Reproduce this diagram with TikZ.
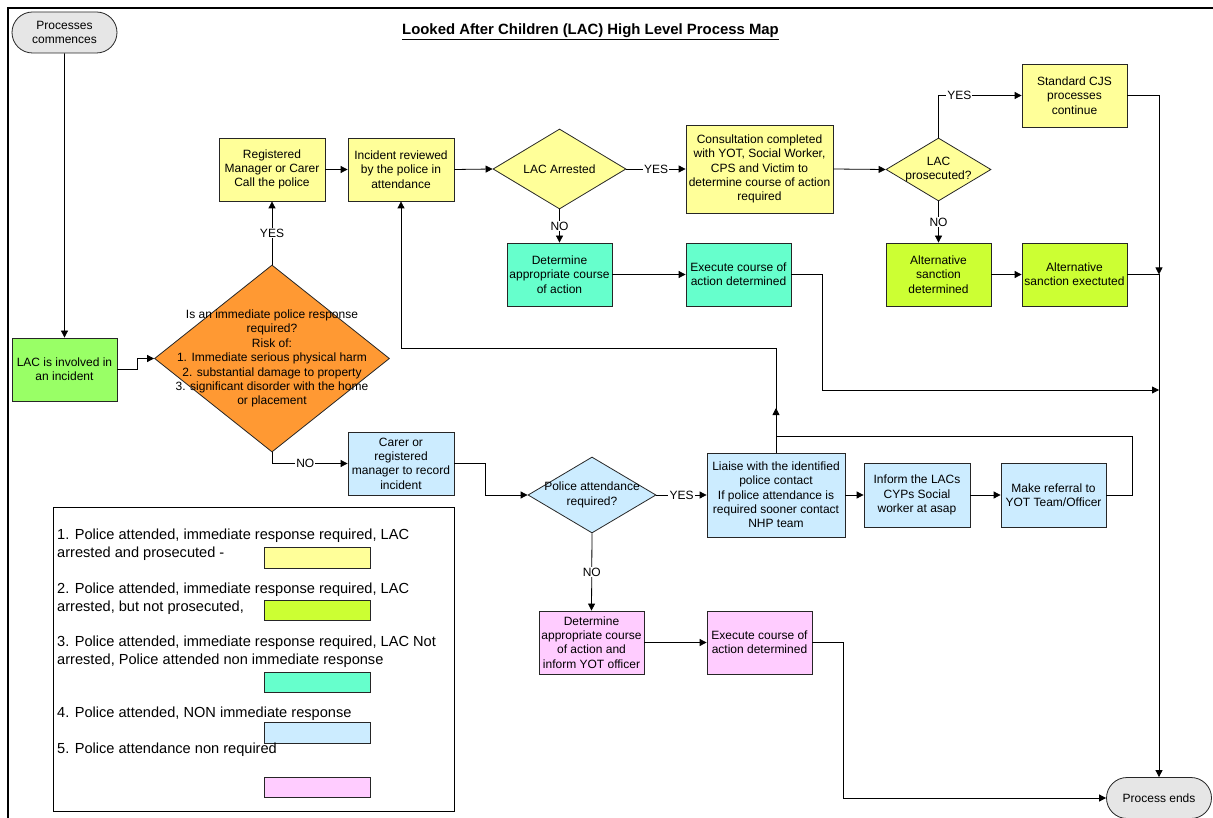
\documentclass[tikz,border=0pt]{standalone}
\usepackage{fontspec}
\setmainfont{Liberation Sans}
\usetikzlibrary{arrows.meta,shapes.geometric,shapes.misc}
\definecolor{cyel}{HTML}{FFFF99}
\definecolor{clime}{HTML}{CCFF33}
\definecolor{cteal}{HTML}{66FFCC}
\definecolor{cblue}{HTML}{CCECFF}
\definecolor{cpink}{HTML}{FFCCFF}
\definecolor{cgreen}{HTML}{99FF66}
\definecolor{corange}{HTML}{FF9933}
\definecolor{cgrey}{HTML}{E6E6E6}
\begin{document}
\begin{tikzpicture}[x=1pt,y=-1pt,
  base/.style={draw=black!85, line width=0.8pt, inner sep=0pt, align=center, font=\fontsize{12}{14.3}\selectfont},
  box/.style={base, rectangle, minimum width=105pt, minimum height=63pt},
  term/.style={base, rounded rectangle, fill=cgrey, minimum width=105pt, minimum height=41pt},
  dia/.style={base, diamond},
  dtext/.style={inner sep=0pt, align=center, font=\fontsize{12}{14.4}\selectfont},
  arr/.style={line width=0.8pt, -{Triangle[length=7pt,width=7pt]}},
  conn/.style={line width=0.8pt},
  lbl/.style={fill=white, inner sep=1.2pt, font=\fontsize{12}{14}\selectfont},
  legtext/.style={inner sep=0pt, anchor=west, align=left, font=\fontsize{14.6}{18}\selectfont},
  swatch/.style={draw=black!85, line width=0.8pt, minimum width=106pt, minimum height=20.5pt, inner sep=0pt}
]
\useasboundingbox (0,0) rectangle (1213,818);
% frame
\draw[line width=2.2pt] (8,818) -- (8,8) -- (1213,8);

% title
\node[inner sep=0pt, font=\fontsize{14.9}{16}\selectfont\bfseries] (title) at (590.5,32) {\underline{Looked After Children (LAC) High Level Process Map}};

% terminators
\node[term] (start) at (64.5,32.5) {Processes\\commences};
\node[term] (end) at (1159,798) {Process ends};

% boxes
\node[box, fill=cgreen] (lac) at (64.5,369.5) {LAC is involved in\\an incident};
\node[box, fill=cyel, minimum width=106pt] (reg) at (272,169.5) {Registered\\Manager or Carer\\Call the police};
\node[box, fill=cyel, minimum width=106pt] (rev) at (401,169.5) {Incident reviewed\\by the police in\\attendance};
\node[box, fill=cyel, minimum width=147pt, minimum height=88pt] (consult) at (759.5,169) {Consultation completed\\with YOT, Social Worker,\\CPS and Victim to\\determine course of action\\required};
\node[box, fill=cyel] (cjs) at (1074.5,95.5) {Standard CJS\\processes\\continue};
\node[box, fill=clime] (altd) at (938.5,274.5) {Alternative\\sanction\\determined};
\node[box, fill=clime] (alte) at (1074.5,274.5) {Alternative\\sanction exectuted};
\node[box, fill=cteal] (detT) at (559.5,274.5) {Determine\\appropriate course\\of action};
\node[box, fill=cteal] (exeT) at (738.5,274.5) {Execute course of\\action determined};
\node[box, fill=cblue, minimum width=106pt] (carer) at (401,463.5) {Carer or\\registered\\manager to record\\incident};
\node[box, fill=cblue, minimum width=138pt, minimum height=84pt] (liaise) at (776,495) {Liaise with the identified\\police contact\\If police attendance is\\required sooner contact\\NHP team};
\node[box, fill=cblue, minimum width=106pt, minimum height=64pt] (inform) at (917,495) {Inform the LACs\\CYPs Social\\worker at asap};
\node[box, fill=cblue, minimum height=64pt] (refer) at (1053.5,495) {Make referral to\\YOT Team/Officer};
\node[box, fill=cpink] (detP) at (591.5,642.5) {Determine\\appropriate course\\of action and\\inform YOT officer};
\node[box, fill=cpink] (exeP) at (759.5,642.5) {Execute course of\\action determined};

% diamonds
\node[dia, fill=corange, minimum width=235pt, minimum height=187pt] (d1) at (272,358.5) {};
\node[dtext] (d1t) at (d1.center) {Is an immediate police response\\required?\\Risk of:\\1. Immediate serious physical harm\\2. substantial damage to property\\3. significant disorder with the home\\or placement};
\node[dia, fill=cyel, minimum width=133pt, minimum height=80pt] (arrd) at (559.5,169) {};
\node[dtext] (arrdt) at (arrd.center) {LAC Arrested};
\node[dia, fill=cyel, minimum width=105pt, minimum height=63pt] (prosd) at (938.5,169.5) {};
\node[dtext] (prosdt) at (prosd.center) {LAC\\prosecuted?};
\node[dia, fill=cblue, minimum width=128pt, minimum height=76pt] (police) at (592,495) {};
\node[dtext] (policet) at (police.center) {Police attendance\\required?};

% junction coordinates
\coordinate (j1) at (1159,274.5);
\coordinate (j2) at (1159,390);
\coordinate (j3) at (776,436);
\coordinate (j4) at (776,408);
\coordinate (j5) at (776,348);

% connectors
\draw[arr] (start) -- (lac);
\draw[arr] (lac.east) -- ++(20,0) |- (d1.west);
\draw[arr] (d1.north) -- node[lbl]{YES} (reg.south);
\draw[arr] (d1.south) |- node[lbl, pos=0.72]{NO} (carer.west);
\draw[arr] (reg.east) -- (rev.west);
\draw[arr] (rev.east) -- (arrd.west);
\draw[arr] (arrd.east) -- node[lbl]{YES} (consult.west);
\draw[arr] (arrd.south) -- node[lbl]{NO} (detT.north);
\draw[arr] (detT.east) -- (exeT.west);
\draw[arr] (consult.east) -- (prosd.west);
\draw[arr] (prosd.north) |- node[lbl, pos=0.625]{YES} (cjs.west);
\draw[arr] (prosd.south) -- node[lbl]{NO} (altd.north);
\draw[arr] (altd.east) -- (alte.west);
\draw[arr] (cjs.east) -| (j1);
\draw[arr] (alte.east) -- (j1) -- (end.north);
\draw[arr] (exeT.east) -- ++(31,0) |- (j2);
\draw[arr] (carer.east) -- ++(31,0) |- (police.west);
\draw[arr] (police.east) -- node[lbl]{YES} (liaise.west);
\draw[arr] (police.south) -- node[lbl]{NO} (detP.north);
\draw[arr] (detP.east) -- (exeP.west);
\draw[arr] (exeP.east) -- ++(31,0) |- (end.west);
\draw[arr] (liaise.east) -- (inform.west);
\draw[arr] (inform.east) -- (refer.west);
\draw[arr] (refer.east) -- ++(26,0) |- (j3) -- (j4);
\draw[arr] (liaise.north) -- (j5) -| (rev.south);

% legend
\node[draw, line width=1.4pt, minimum width=401pt, minimum height=304pt, anchor=north west, inner sep=0pt] (legend) at (53,507) {};
\node[legtext] (leg1) at (57,545) {1. Police attended, immediate response required, LAC\\arrested and prosecuted -};
\node[legtext] (leg2) at (57,599) {2. Police attended, immediate response required, LAC\\arrested, but not prosecuted,};
\node[legtext] (leg3) at (57,652) {3. Police attended, immediate response required, LAC Not\\arrested, Police attended non immediate response};
\node[legtext] (leg4) at (57,714) {4. Police attended, NON immediate response};
\node[swatch, fill=cyel] (sw1) at (317,558) {};
\node[swatch, fill=clime] (sw2) at (317,610.5) {};
\node[swatch, fill=cteal] (sw3) at (317,682.5) {};
\node[swatch, fill=cblue] (sw4) at (317,733) {};
\node[legtext] (leg5) at (57,750) {5. Police attendance non required};
\node[swatch, fill=cpink] (sw5) at (317,787.5) {};
\end{tikzpicture}
\end{document}
